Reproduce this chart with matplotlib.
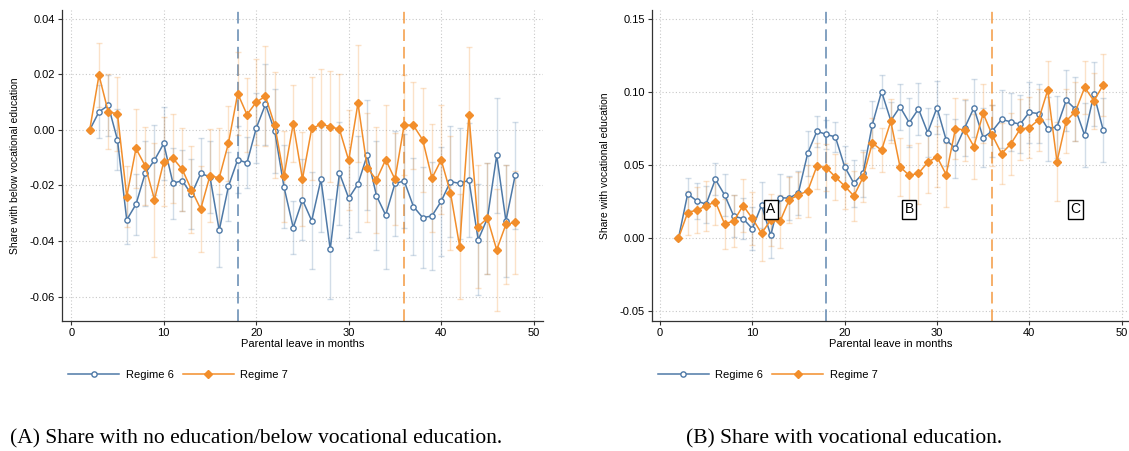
import numpy as np
import matplotlib
matplotlib.use("Agg")
import matplotlib.pyplot as plt

plt.rcParams['font.family'] = ['Liberation Sans', 'DejaVu Sans']

# months of parental leave (event-study bins)
months = np.arange(2, 49)

# (A) share with no education / below vocational education
below_r6 = [0.0, 0.0065, 0.0088, -0.0036, -0.0324, -0.0268, -0.0156, -0.0109, -0.0049, -0.0192,
            -0.0183, -0.0232, -0.0157, -0.0169, -0.0362, -0.0203, -0.0107, -0.0119, 0.0006, 0.0092,
            -0.0004, -0.0205, -0.0352, -0.0252, -0.0327, -0.0178, -0.0430, -0.0156, -0.0246, -0.0195,
            -0.0091, -0.0237, -0.0307, -0.0193, -0.0184, -0.0276, -0.0316, -0.0310, -0.0257, -0.0186,
            -0.0193, -0.0181, -0.0396, -0.0318, -0.0092, -0.0328, -0.0163]
below_r6_err = [0.0, 0.0096, 0.011, 0.011, 0.0088, 0.011, 0.0117, 0.0127, 0.013, 0.0128,
                0.011, 0.0126, 0.0129, 0.0129, 0.013, 0.0125, 0.012, 0.0092, 0.0126, 0.0146,
                0.015, 0.015, 0.0096, 0.0146, 0.0175, 0.019, 0.018, 0.0185, 0.0145, 0.0174,
                0.0197, 0.0197, 0.0195, 0.019, 0.017, 0.0175, 0.0183, 0.0193, 0.0197, 0.02,
                0.02, 0.0205, 0.02, 0.02, 0.0207, 0.0201, 0.0193]
below_r7 = [0.0, 0.0197, 0.0065, 0.0058, -0.024, -0.0067, -0.013, -0.0251, -0.0115, -0.0102,
            -0.0142, -0.0216, -0.0285, -0.0165, -0.0173, -0.0048, 0.0131, 0.0055, 0.010, 0.0121,
            0.0017, -0.0167, 0.0022, -0.0177, 0.0005, 0.002, 0.0012, 0.0002, -0.011, 0.0096,
            -0.0136, -0.018, -0.0107, -0.0178, 0.0018, 0.0016, -0.0036, -0.0174, -0.0108, -0.0226,
            -0.042, 0.0054, -0.0348, -0.0318, -0.0432, -0.034, -0.0333]
below_r7_err = [0.0, 0.0115, 0.0135, 0.0133, 0.0111, 0.0141, 0.0142, 0.0205, 0.016, 0.016,
                0.015, 0.0157, 0.0156, 0.0167, 0.018, 0.0135, 0.015, 0.0133, 0.0156, 0.018,
                0.019, 0.0163, 0.0138, 0.017, 0.0185, 0.02, 0.02, 0.02, 0.018, 0.021,
                0.0196, 0.019, 0.0196, 0.0165, 0.018, 0.0157, 0.0187, 0.0194, 0.0196, 0.0205,
                0.019, 0.0243, 0.022, 0.02, 0.022, 0.0214, 0.0186]

# (B) share with vocational education
voc_r6 = [0.0, 0.0304, 0.0256, 0.0233, 0.0404, 0.0297, 0.0151, 0.0135, 0.0066, 0.0226,
          0.002, 0.0279, 0.0274, 0.0313, 0.0582, 0.0733, 0.0712, 0.0694, 0.0491, 0.0377,
          0.0445, 0.0779, 0.1005, 0.0806, 0.090, 0.0792, 0.0886, 0.0724, 0.0895, 0.0673,
          0.0616, 0.0756, 0.0893, 0.069, 0.0735, 0.0815, 0.0797, 0.0781, 0.0863, 0.0854,
          0.0751, 0.0763, 0.0945, 0.0884, 0.0705, 0.0986, 0.0742]
voc_r6_err = [0.0, 0.011, 0.0126, 0.0128, 0.011, 0.0144, 0.0144, 0.014, 0.0146, 0.0158,
              0.0155, 0.0158, 0.015, 0.015, 0.0155, 0.0107, 0.010, 0.0105, 0.014, 0.016,
              0.016, 0.016, 0.011, 0.013, 0.016, 0.017, 0.018, 0.017, 0.018, 0.018,
              0.02, 0.019, 0.02, 0.02, 0.018, 0.02, 0.02, 0.02, 0.021, 0.02,
              0.022, 0.021, 0.021, 0.022, 0.022, 0.022, 0.022]
voc_r7 = [0.0, 0.0176, 0.0194, 0.0221, 0.0251, 0.0098, 0.0119, 0.0224, 0.0137, 0.0034,
          0.0126, 0.0116, 0.0263, 0.0297, 0.0324, 0.0495, 0.0484, 0.042, 0.0358, 0.029,
          0.0418, 0.0653, 0.0603, 0.0801, 0.0489, 0.0431, 0.0445, 0.052, 0.0559, 0.0436,
          0.0751, 0.0742, 0.0628, 0.0856, 0.0705, 0.058, 0.0646, 0.0747, 0.0758, 0.081,
          0.1016, 0.0525, 0.0804, 0.0868, 0.1034, 0.0941, 0.105]
voc_r7_err = [0.0, 0.015, 0.016, 0.017, 0.016, 0.017, 0.018, 0.018, 0.018, 0.019,
              0.018, 0.018, 0.016, 0.016, 0.018, 0.016, 0.016, 0.016, 0.016, 0.017,
              0.017, 0.017, 0.015, 0.015, 0.02, 0.021, 0.021, 0.021, 0.021, 0.022,
              0.021, 0.021, 0.022, 0.02, 0.021, 0.021, 0.021, 0.021, 0.021, 0.021,
              0.02, 0.027, 0.022, 0.02, 0.018, 0.019, 0.021]

# reform cut-offs and box labels on panel B
cutoffs = [18, 36]
box_labels = ['A', 'B', 'C']
box_x = [12, 27, 45]
box_y = [0.02, 0.02, 0.02]

BLUE = '#4e79a7'
ORANGE = '#f28e2b'


def draw_panel(ax, r6, r6_err, r7, r7_err, ylabel, yticks, ylim, fmt):
    for y, e, c, mk, ms, mfc, lab in [(r6, r6_err, BLUE, 'o', 3.8, 'white', 'Regime 6'),
                                      (r7, r7_err, ORANGE, 'D', 4.2, ORANGE, 'Regime 7')]:
        ax.errorbar(months, y, yerr=e, fmt='none', ecolor=c, alpha=0.25,
                    elinewidth=1, capsize=2, capthick=1, zorder=2)
        ax.plot(months, y, color=c, lw=1.1, marker=mk, ms=ms, mfc=mfc,
                mec=c, mew=1, label=lab, zorder=3)
    ax.axvline(cutoffs[0], color=BLUE, alpha=0.7, lw=1.4, dashes=(6, 3), zorder=1)
    ax.axvline(cutoffs[1], color=ORANGE, alpha=0.7, lw=1.4, dashes=(6, 3), zorder=1)

    ax.set_xlim(-1, 51)
    ax.set_ylim(*ylim)
    ax.set_xticks([0, 10, 20, 30, 40, 50])
    ax.set_yticks(yticks)
    ax.set_yticklabels([fmt.format(t) for t in yticks])
    ax.grid(True, ls=(0, (1, 2)), color='#c8c8c8', lw=0.8)
    ax.set_axisbelow(True)
    for s in ['top', 'right']:
        ax.spines[s].set_visible(False)
    for s in ['left', 'bottom']:
        ax.spines[s].set_color('#333333')
        ax.spines[s].set_linewidth(0.9)
    ax.tick_params(labelsize=8, length=3, width=0.8, color='#333333', pad=2)
    ax.set_xlabel('Parental leave in months', fontsize=8, labelpad=1)
    ax.set_ylabel(ylabel, fontsize=7.5, labelpad=7)
    ax.legend(loc='center left', bbox_to_anchor=(0.0125, -0.176), ncol=2, frameon=False,
              fontsize=8, handlelength=4.6, handletextpad=0.6, columnspacing=0.8,
              borderpad=0, borderaxespad=0)


fig = plt.figure(figsize=(11.29, 4.51), dpi=100)
ax1 = fig.add_axes([0.0549, 0.289, 0.426, 0.689])
ax2 = fig.add_axes([0.5772, 0.289, 0.4228, 0.689])

draw_panel(ax1, below_r6, below_r6_err, below_r7, below_r7_err,
           'Share with below vocational education',
           [-0.06, -0.04, -0.02, 0.0, 0.02, 0.04], (-0.0687, 0.0432), '{:.2f}')
draw_panel(ax2, voc_r6, voc_r6_err, voc_r7, voc_r7_err,
           'Share with vocational education',
           [-0.05, 0.0, 0.05, 0.10, 0.15], (-0.0564, 0.1564), '{:.2f}')
ax2.set_xlim(-0.9, 50.8)

for lab, bx, by in zip(box_labels, box_x, box_y):
    ax2.text(bx, by, lab, fontsize=10, ha='center', va='center', zorder=5,
             bbox=dict(boxstyle='square,pad=0.18', fc='white', ec='black', lw=1))

fig.text(0.227, 0.027, '(A) Share with no education/below vocational education.',
         family='Liberation Serif', fontsize=15.5, ha='center', va='center')
fig.text(0.748, 0.027, '(B) Share with vocational education.',
         family='Liberation Serif', fontsize=15.5, ha='center', va='center')

fig.savefig('out.png', dpi=100)
